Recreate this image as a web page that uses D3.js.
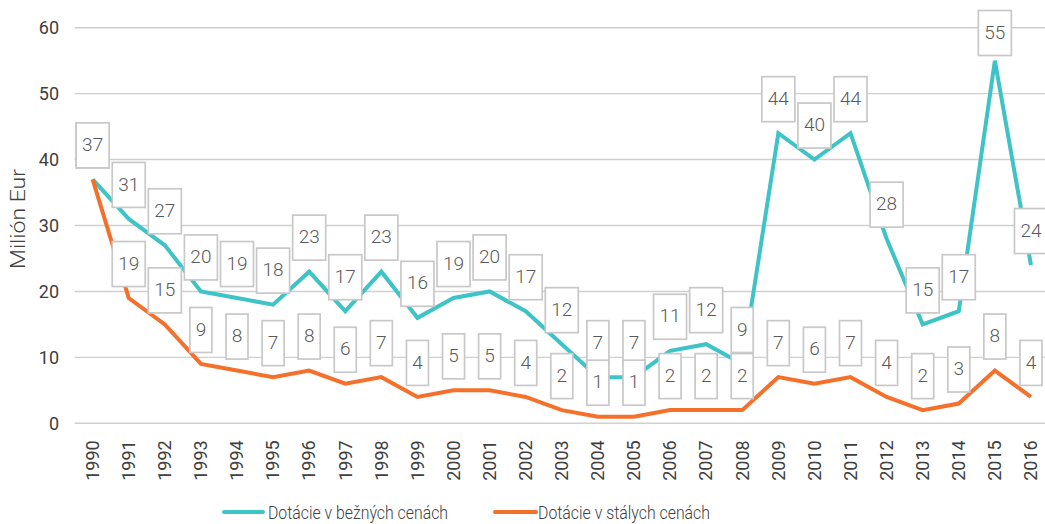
<!DOCTYPE html>
<html>
<head>
<meta charset="utf-8">
<script src="https://cdn.jsdelivr.net/npm/d3@7"></script>
<style>
  html, body { margin: 0; padding: 0; background: #fff; }
  svg { display: block; }
</style>
</head>
<body>
<svg id="chart" width="1045" height="524"></svg>
<script>
const years = ["1990","1991","1992","1993","1994","1995","1996","1997","1998","1999","2000","2001","2002","2003","2004","2005","2006","2007","2008","2009","2010","2011","2012","2013","2014","2015","2016"];
const currentPrices = [37,31,27,20,19,18,23,17,23,16,19,20,17,12,7,7,11,12,9,44,40,44,28,15,17,55,24];
const constantPrices = [37,19,15,9,8,7,8,6,7,4,5,5,4,2,1,1,2,2,2,7,6,7,4,2,3,8,4];
const yTicks = [0,10,20,30,40,50,60];
const seriesNames = ["Dotácie v bežných cenách", "Dotácie v stálych cenách"];
const seriesColors = ["#3EC3C6", "#F4702B"];
const yTitle = "Milión Eur";

const svg = d3.select("#chart");
const plotLeft = 74.6, plotRight = 1049, plotTop = 27.7, plotBottom = 423.3;

const x = d3.scaleBand().domain(years).range([plotLeft, plotRight]).padding(0);
const y = d3.scaleLinear().domain([0, 60]).range([plotBottom, plotTop]);
const cx = d => x(d) + x.bandwidth() / 2;

const numFont = "Roboto, 'Liberation Sans', sans-serif";

// gridlines
svg.append("g").selectAll("line").data(yTicks).join("line")
  .attr("x1", plotLeft).attr("x2", 1045)
  .attr("y1", d => y(d)).attr("y2", d => y(d))
  .attr("stroke", "#d0d0d0").attr("stroke-width", 1.4);

// y tick labels
const yAxis = d3.axisLeft(y).tickValues(yTicks).tickSize(0).tickPadding(0);
const gy = svg.append("g").attr("transform", `translate(59,0)`).call(yAxis);
gy.select(".domain").remove();
gy.selectAll("text").attr("font-family", numFont).attr("font-size", 18).attr("fill", "#404040");

// x labels
const xAxis = d3.axisBottom(x).tickSize(0).tickPadding(0);
const gx = svg.append("g").attr("transform", `translate(0,${plotBottom})`).call(xAxis);
gx.select(".domain").remove();
gx.selectAll("text")
  .attr("font-family", numFont).attr("font-size", 18).attr("fill", "#404040")
  .attr("text-anchor", "end")
  .attr("transform", "translate(0,17) rotate(-90)")
  .attr("dy", "0.35em").attr("dx", 0).attr("y", 0).attr("x", 0);

// y title
svg.append("text")
  .attr("transform", `translate(25,219) rotate(-90)`)
  .attr("text-anchor", "middle")
  .attr("font-family", numFont).attr("font-weight", 300).attr("font-size", 20).attr("fill", "#404040")
  .attr("textLength", 100).attr("lengthAdjust", "spacingAndGlyphs")
  .text(yTitle);

// lines
const series = [currentPrices, constantPrices];
const lineGen = d3.line().x((d, i) => cx(years[i])).y(d => y(d));
series.forEach((s, k) => {
  svg.append("path").datum(s)
    .attr("d", lineGen)
    .attr("fill", "none")
    .attr("stroke", seriesColors[k])
    .attr("stroke-width", 4)
    .attr("stroke-linejoin", "miter");
});

// data labels
series.forEach((s, k) => {
  const g = svg.append("g");
  s.forEach((v, i) => {
    const txt = String(v);
    const w = txt.length === 1 ? 22 : 33;
    const h = 45;
    let by = y(v) - 11.5 - h;
    if (by < 10.5) by = 10.5;
    const bx = cx(years[i]) - w / 2;
    g.append("rect").attr("x", bx).attr("y", by).attr("width", w).attr("height", h)
      .attr("fill", "#fff").attr("stroke", "#c8c8c8").attr("stroke-width", 1.7);
    g.append("text").attr("x", cx(years[i])).attr("y", by + h / 2 - 1)
      .attr("text-anchor", "middle").attr("dy", "0.35em")
      .attr("font-family", numFont).attr("font-weight", 300).attr("font-size", 19).attr("fill", "#595959")
      .text(txt);
  });
});

// legend
const legendItems = [{x0: 224, x1: 263, tx: 268, len: 180}, {x0: 495, x1: 536, tx: 538, len: 172}];
legendItems.forEach((L, k) => {
  svg.append("line").attr("x1", L.x0).attr("x2", L.x1).attr("y1", 512).attr("y2", 512)
    .attr("stroke", seriesColors[k]).attr("stroke-width", 4).attr("stroke-linecap", "round");
  svg.append("text").attr("x", L.tx).attr("y", 513).attr("dy", "0.35em")
    .attr("font-family", numFont).attr("font-weight", 300).attr("font-size", 18).attr("fill", "#404040")
    .attr("textLength", L.len).attr("lengthAdjust", "spacingAndGlyphs")
    .text(seriesNames[k]);
});
</script>
</body>
</html>
